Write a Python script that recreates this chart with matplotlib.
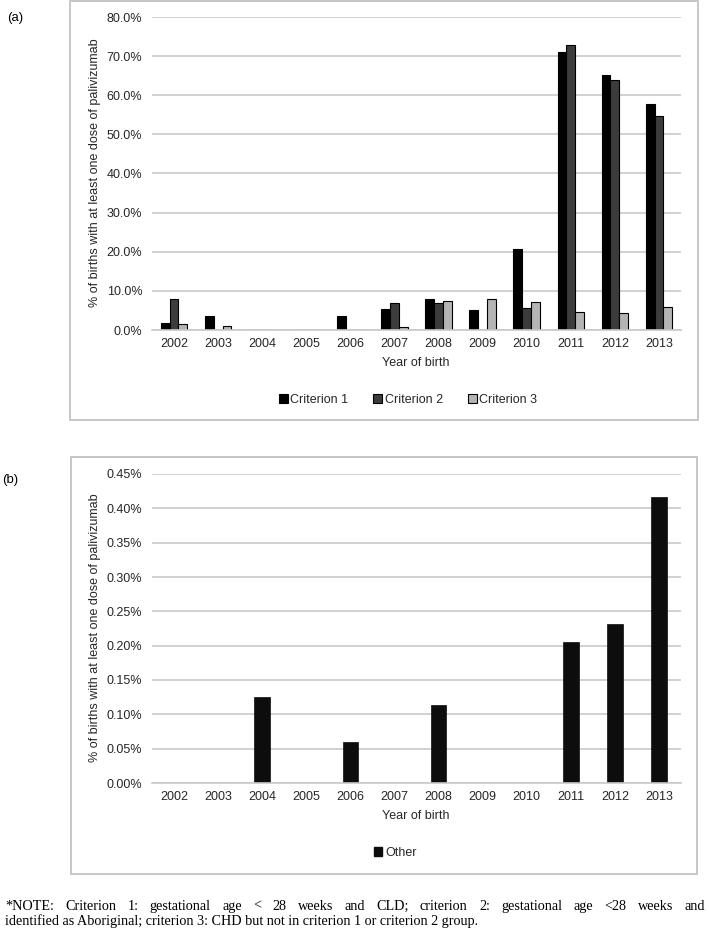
import numpy as np
import matplotlib
matplotlib.use("Agg")
import matplotlib.pyplot as plt
from matplotlib.patches import Rectangle, Patch

plt.rcParams['font.family'] = ['Liberation Sans', 'DejaVu Sans']

# data (% of births)
years = ['2002', '2003', '2004', '2005', '2006', '2007', '2008',
         '2009', '2010', '2011', '2012', '2013']
criterion1 = [1.9, 3.5, 0, 0, 3.5, 5.4, 8.0, 5.1, 20.7, 71.0, 65.2, 57.7]
criterion2 = [7.9, 0, 0, 0, 0, 6.8, 6.8, 0, 5.6, 72.8, 63.8, 54.6]
criterion3 = [1.5, 0.9, 0, 0, 0, 0.8, 7.4, 7.9, 7.2, 4.6, 4.4, 5.9]
other = [0, 0, 0.125, 0, 0.059, 0, 0.114, 0, 0, 0.206, 0.232, 0.416]

series_names = ['Criterion 1', 'Criterion 2', 'Criterion 3']
series_colors = ['#000000', '#3c3c3c', '#b4b4b4']

note_line1 = ("*NOTE: Criterion 1: gestational age < 28 weeks and CLD; "
              "criterion 2: gestational age <28 weeks and")
note_line2 = ("identified as Aboriginal; criterion 3: CHD but not in "
              "criterion 1 or criterion 2 group.")

W, H = 709, 930
fig = plt.figure(figsize=(W / 100, H / 100), dpi=100)

TXT = '#262626'
GRID = '#c9c9c9'
FS = 9


def fx(px):
    return px / W


def fy(py):
    return 1 - py / H


def style_axes(ax):
    ax.set_xlim(-0.5, len(years) - 0.5)
    ax.set_xticks(np.arange(len(years)))
    ax.set_xticklabels(years)
    ax.yaxis.grid(True, color=GRID, lw=1.2)
    ax.set_axisbelow(True)
    for s in ['left', 'top', 'right']:
        ax.spines[s].set_visible(False)
    ax.spines['bottom'].set_color(GRID)
    ax.spines['bottom'].set_linewidth(1.2)
    ax.tick_params(length=0, labelsize=FS, labelcolor=TXT)
    ax.tick_params(axis='x', pad=6)
    ax.tick_params(axis='y', pad=7)


# chart frames
fig.add_artist(Rectangle((fx(70), fy(420)), fx(628), 419 / H, transform=fig.transFigure,
                         fill=False, ec='#c3c3c3', lw=1.3))
fig.add_artist(Rectangle((fx(71), fy(874)), fx(626), 417 / H, transform=fig.transFigure,
                         fill=False, ec='#c3c3c3', lw=1.3))

# (a)
ax1 = fig.add_axes([fx(152), fy(330), fx(529), 313 / H])
x = np.arange(len(years))
bw = 0.2
for i, (vals, name, col) in enumerate(zip([criterion1, criterion2, criterion3],
                                          series_names, series_colors)):
    ax1.bar(x + (i - 1) * bw, vals, bw, color=col, edgecolor='black', lw=0.8, label=name)
ax1.set_ylim(0, 80)
ax1.set_yticks(np.arange(0, 81, 10))
ax1.set_yticklabels(['%.1f%%' % v for v in np.arange(0, 81, 10)])
style_axes(ax1)

fig.text(fx(95), fy(173), '% of births with at least one dose of palivizumab',
         rotation=90, ha='center', va='center', fontsize=FS, color=TXT)
fig.text(fx(416), fy(363), 'Year of birth', ha='center', va='center', fontsize=FS, color=TXT)
handles = [Patch(facecolor=c, edgecolor='black', lw=0.8) for c in series_colors]
fig.legend(handles, series_names, loc='center', bbox_to_anchor=(fx(408), fy(400)), ncol=3,
           frameon=False, fontsize=FS, handlelength=0.7, handleheight=0.7,
           handletextpad=0.2, columnspacing=2.0, labelcolor=TXT)
fig.text(fx(7), fy(18), '(a)', fontsize=9.5, ha='left', va='center', color='black')

# (b)
ax2 = fig.add_axes([fx(152), fy(783), fx(529), 309 / H])
ax2.bar(x, other, 0.35, color='#0d0d0d', edgecolor='#0d0d0d', lw=0.5)
ax2.set_ylim(0, 0.45)
ax2.set_yticks(np.arange(0, 0.451, 0.05))
ax2.set_yticklabels(['%.2f%%' % v for v in np.arange(0, 0.451, 0.05)])
style_axes(ax2)

fig.text(fx(95), fy(628), '% of births with at least one dose of palivizumab',
         rotation=90, ha='center', va='center', fontsize=FS, color=TXT)
fig.text(fx(416), fy(816), 'Year of birth', ha='center', va='center', fontsize=FS, color=TXT)
fig.legend([Patch(facecolor='#0d0d0d', edgecolor='#0d0d0d')], ['Other'], loc='center',
           bbox_to_anchor=(fx(395), fy(853)), frameon=False, fontsize=FS,
           handlelength=0.7, handleheight=0.7, handletextpad=0.2, labelcolor=TXT)
fig.text(fx(2), fy(480), '(b)', fontsize=9.5, ha='left', va='center', color='black')

# footnote, first line justified across the page
note_kw = dict(fontsize=10.2, family='Liberation Serif', color='black', va='center')
renderer = fig.canvas.get_renderer()
words = note_line1.split()
arts = [fig.text(0, fy(906), w, **note_kw) for w in words]
widths = [a.get_window_extent(renderer).width for a in arts]
gap = (700 - sum(widths)) / (len(words) - 1)
pos = 5.0
for a, w in zip(arts, widths):
    a.set_x(fx(pos))
    pos += w + gap
fig.text(fx(5), fy(921), note_line2, **note_kw)

fig.savefig('out.png', dpi=100)
